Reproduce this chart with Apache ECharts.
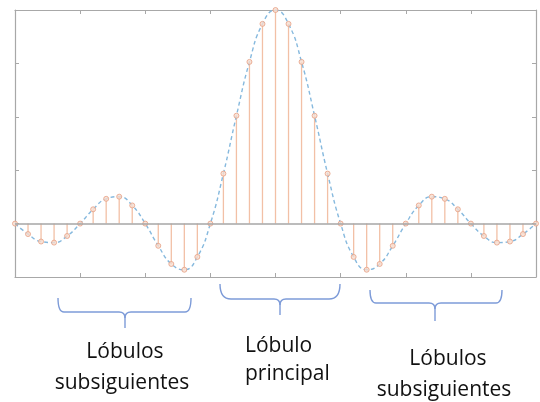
<!DOCTYPE html>
<html>
<head>
<meta charset="utf-8">
<script src="https://cdn.jsdelivr.net/npm/echarts@6/dist/echarts.min.js"></script>
<style>
  html, body { margin: 0; padding: 0; background: #fff; }
  #chart { width: 540px; height: 402px; }
</style>
</head>
<body>
<div id="chart"></div>
<script>
// muestras (x) y amplitud
const xs = [
  -4, -3.8, -3.6, -3.4, -3.2, -3, -2.8, -2.6, -2.4, -2.2,
  -2, -1.8, -1.6, -1.4, -1.2, -1, -0.8, -0.6, -0.4, -0.2,
  0,
  0.2, 0.4, 0.6, 0.8, 1, 1.2, 1.4, 1.6, 1.8, 2,
  2.2, 2.4, 2.6, 2.8, 3, 3.2, 3.4, 3.6, 3.8, 4,
];
const ys = [
  0, -0.049, -0.084, -0.089, -0.058, 0, 0.067, 0.116, 0.126, 0.085,
  0, -0.104, -0.189, -0.216, -0.156, 0, 0.234, 0.505, 0.757, 0.935,
  1,
  0.935, 0.757, 0.505, 0.234, 0, -0.156, -0.216, -0.189, -0.104, 0,
  0.085, 0.126, 0.116, 0.067, 0, -0.058, -0.089, -0.084, -0.049, 0,
];
const labels = [
  ["Lóbulos", "subsiguientes"],
  ["Lóbulo", "principal"],
  ["Lóbulos", "subsiguientes"],
];

const points = xs.map((x, i) => [x, ys[i]]);

const axisGrey = "#a8a8a8";
const braceColor = "#7d9bd8";
const textFont = "21px 'Open Sans'";

const xAxisBase = {
  type: "value",
  min: -4,
  max: 4,
  interval: 1,
  axisLine: { show: true, onZero: false, lineStyle: { color: axisGrey, width: 1.2 } },
  axisTick: { show: true, inside: true, length: 4, lineStyle: { color: axisGrey } },
  axisLabel: { show: false },
  splitLine: { show: false },
};
const yAxisBase = {
  type: "value",
  min: -0.25,
  max: 1,
  interval: 0.25,
  axisLine: { show: true, onZero: false, lineStyle: { color: axisGrey, width: 1.2 } },
  axisTick: { show: true, inside: true, length: 4, lineStyle: { color: axisGrey } },
  axisLabel: { show: false },
  splitLine: { show: false },
};

// llave horizontal: extremos l/r arriba, barra en mid, pico en cx hasta bottom
const brace = (l, r, top, mid, cx, bottom, rad) => {
  const st = { fill: null, stroke: braceColor, lineWidth: 1.4 };
  const k = 6;
  const curve = (x1, y1, cpx, cpy, x2, y2) => ({
    type: "bezierCurve",
    shape: { x1: x1, y1: y1, cpx1: cpx, cpy1: cpy, x2: x2, y2: y2 },
    style: st,
  });
  const seg = (x1, y1, x2, y2) => ({
    type: "line",
    shape: { x1: x1, y1: y1, x2: x2, y2: y2 },
    style: st,
  });
  return {
    type: "group",
    children: [
      curve(l, top, l, mid, l + rad, mid),
      seg(l + rad, mid, cx - k, mid),
      curve(cx - k, mid, cx, mid, cx, mid + k),
      seg(cx, mid + k, cx, bottom),
      curve(cx + k, mid, cx, mid, cx, mid + k),
      seg(cx + k, mid, r - rad, mid),
      curve(r - rad, mid, r, mid, r, top),
    ],
  };
};
const label = (txt, x, y, align) => ({
  type: "text",
  x: x,
  y: y,
  style: {
    text: txt,
    font: textFont,
    fill: "#111",
    align: align,
    verticalAlign: "middle",
  },
});

const chart = echarts.init(document.getElementById("chart"));
chart.setOption({
  animation: false,
  grid: { left: 15, right: 4, top: 10, bottom: 125 },
  xAxis: [
    Object.assign({}, xAxisBase, { position: "bottom" }),
    Object.assign({}, xAxisBase, { position: "top" }),
  ],
  yAxis: [
    Object.assign({}, yAxisBase, { position: "left" }),
    Object.assign({}, yAxisBase, { position: "right" }),
  ],
  series: [
    {
      // tallos
      type: "custom",
      renderItem: (params, api) => {
        const p0 = api.coord([api.value(0), 0]);
        const p1 = api.coord([api.value(0), api.value(1)]);
        return {
          type: "line",
          shape: { x1: p0[0], y1: p0[1], x2: p1[0], y2: p1[1] },
          style: { stroke: "#f2c0a6", lineWidth: 1.3 },
        };
      },
      data: points,
      z: 2,
    },
    {
      type: "line",
      data: points,
      smooth: true,
      showSymbol: false,
      lineStyle: { color: "#86b9de", width: 1.4, type: [4, 3] },
      markLine: {
        silent: true,
        symbol: "none",
        label: { show: false },
        lineStyle: { color: "#a6a6a6", type: "solid", width: 1.5 },
        data: [{ yAxis: 0 }],
      },
      z: 3,
    },
    {
      type: "scatter",
      data: points,
      symbol: "circle",
      symbolSize: 5,
      itemStyle: { color: "#f8ddd0", borderColor: "#e6a085", borderWidth: 1 },
      z: 4,
    },
  ],
  graphic: [
    brace(58, 191, 298, 312, 125, 328, 6),
    brace(220, 340, 284, 299, 280, 315, 11),
    brace(370, 502, 290, 303, 435, 321, 6),
    label(labels[0][0], 125, 352, "center"),
    label(labels[0][1], 122, 383, "center"),
    label(labels[1][0], 245, 346.5, "left"),
    label(labels[1][1], 245, 374.5, "left"),
    label(labels[2][0], 448, 359.5, "center"),
    label(labels[2][1], 444, 390.5, "center"),
  ],
});
</script>
</body>
</html>
